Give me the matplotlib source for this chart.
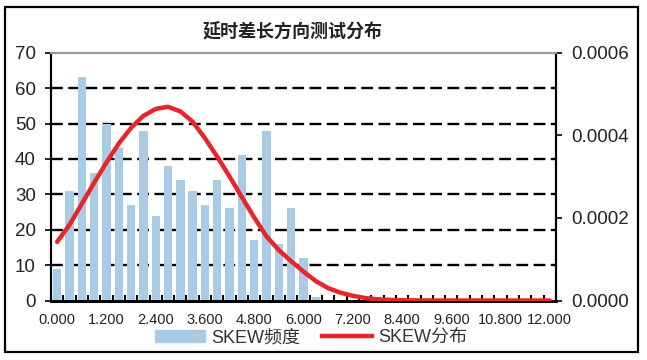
import matplotlib.pyplot as plt
import numpy as np
from matplotlib.patches import Rectangle

# category axis: 0.000 .. 12.000 step 0.300
categories = ['%.3f' % (i * 0.3) for i in range(41)]

# SKEW频度 (left axis, counts)
freq = [9, 31, 63, 36, 50, 43, 27, 48, 24, 38,
        34, 31, 27, 34, 26, 41, 17, 48, 16, 26,
        12, 1, 0, 0, 0, 0, 0, 0, 0, 0,
        0, 0, 0, 0, 0, 0, 0, 0, 0, 0, 0]

# SKEW分布 (right axis, density)
dist = [0.000142, 0.000183, 0.000234, 0.000285, 0.000334, 0.000380, 0.000418, 0.000447, 0.000464, 0.000469,
        0.000458, 0.000433, 0.000393, 0.000348, 0.000300, 0.000250, 0.000201, 0.000155, 0.000122, 0.000095,
        0.000070, 0.000047, 0.000030, 0.000019, 0.0000115, 0.000006, 0.000003, 0.0000015, 0.0000007, 0.0000003,
        0.0000001, 0, 0, 0, 0, 0, 0, 0, 0, 0, 0]

lat = ['Liberation Sans', 'Noto Sans CJK SC']
plt.rcParams['font.family'] = lat

fig = plt.figure(figsize=(6.47, 3.6), dpi=100)
ax = fig.add_axes([51/647, 1-300.5/360, 505/647, 247.8/360])
ax2 = ax.twinx()

x = np.arange(len(categories))
ax.bar(x, freq, width=0.68, color='#A9CBE5', zorder=2)
ax.set_xlim(-0.5, len(categories) - 0.5)
ax.set_ylim(0, 70)
ax.set_yticks(range(0, 71, 10))
for v in range(10, 70, 10):
    ax.axhline(v, color='black', lw=1.7, ls=(0, (5, 2.3)), zorder=1)

ax.set_xticks(x[::4])
ax.set_xticklabels(categories[::4], fontsize=10.5, color='#222222')
ax.set_xticks(np.arange(-0.5, len(categories), 1), minor=True)
ax.tick_params(axis='x', which='both', length=0, pad=9)
ax.tick_params(axis='x', which='minor', length=4, width=1.5, direction='in', color='black')
ax.tick_params(axis='y', labelsize=13.5, length=4, width=1.2, direction='out', pad=7, colors='black', labelcolor='#222222')

ax2.plot(x, dist, color='#E8262A', lw=3.2, solid_capstyle='round', zorder=3)
ax2.set_ylim(0, 0.0006)
ax2.set_yticks([0, 0.0002, 0.0004, 0.0006])
ax2.set_yticklabels(['0.0000', '0.0002', '0.0004', '0.0006'])
ax2.tick_params(axis='y', labelsize=13.5, length=4, width=1.2, direction='out', pad=7, labelcolor='#222222')

for a in (ax, ax2):
    a.spines['top'].set_color('#999999')
    a.spines['top'].set_linewidth(1.5)
    a.spines['left'].set_linewidth(1.5)
    a.spines['right'].set_linewidth(1.5)
    a.spines['bottom'].set_linewidth(2)

fig.text(293/647, 1-32/360, '延时差长方向测试分布', fontsize=13, ha='center', va='center',
         family=['Noto Sans CJK SC'], fontweight='bold', color='#222222')

h1 = Rectangle((0, 0), 1, 1, color='#A9CBE5')
h2, = ax2.plot([], [], color='#E8262A', lw=3.2)
fig.legend([h1, h2], ['SKEW频度', 'SKEW分布'], loc='center', bbox_to_anchor=(311/647, 1-338/360),
           ncol=2, frameon=False, fontsize=13, handlelength=2.8, handleheight=0.6,
           handletextpad=0.33, columnspacing=1.2, borderpad=0, labelcolor='#333333')

fig.patches.append(Rectangle((5/647, 1-351.7/360), 632.7/647, 345/360, transform=fig.transFigure,
                             fill=False, edgecolor='black', lw=1.6))

fig.savefig('out.png', dpi=100)
